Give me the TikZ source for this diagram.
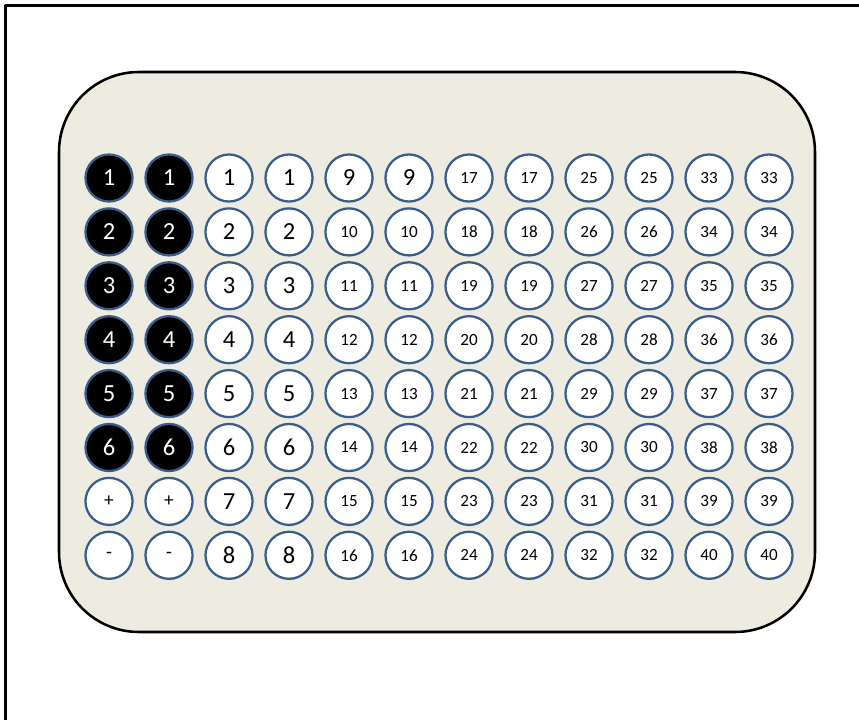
\documentclass[tikz,border=0pt]{standalone}
\usepackage{fontspec}
\setmainfont{Carlito}
\definecolor{plateink}{HTML}{000000}
\definecolor{platefill}{HTML}{EEECE1}
\definecolor{wellring}{HTML}{385D8A}

\begin{document}
\begin{tikzpicture}[x=0.75pt, y=-0.75pt, line cap=round, line join=round,
    well/.style={circle, draw=wellring, line width=1.7pt, minimum size=35.3pt, inner sep=0pt},
    whitewell/.style={well, fill=white, text=plateink},
    blackwell/.style={well, fill=black, text=white},
    bigtxt/.style={font=\fontsize{18.4}{18.4}\selectfont},
    smalltxt/.style={font=\fontsize{12.8}{12.8}\selectfont},
    signtxt/.style={font=\fontsize{14.5}{14.5}\selectfont}]
  \useasboundingbox (0,0) rectangle (859,720);
  \def\dx{60}
  \def\dy{53.9}

  % 外框：只有左边和上边
  \draw[plateink, line width=2.25pt, line cap=butt] (5.5,720) -- (5.5,5.5) -- (859,5.5);

  % 圆角底板
  \draw[plateink, fill=platefill, line width=1.9pt, rounded corners=60pt] (59,72) rectangle (815,632);

  % 左两列：黑色 1–6，下面是 + 和 -
  \foreach \c in {1,2}{
    \foreach \r in {1,...,6}
      \node[blackwell, bigtxt] (w\c-\r) at ({49+\dx*\c},{178+\dy*(\r-1)}) {\r};
    \node[whitewell, signtxt] (w\c-7) at ({49+\dx*\c},{178+\dy*6}) {+};
    \node[whitewell, signtxt] (w\c-8) at ({49+\dx*\c},{178+\dy*7}) {-};
  }

  % 其余十列：每两列同号，1–40
  \foreach \c in {3,...,12}{
    \foreach \r in {1,...,8}{
      \pgfmathtruncatemacro{\n}{8*floor((\c-3)/2)+\r}
      \ifnum\n<10
        \node[whitewell, bigtxt] (w\c-\r) at ({49+\dx*\c},{178+\dy*(\r-1)}) {\n};
      \else
        \node[whitewell, smalltxt] (w\c-\r) at ({49+\dx*\c},{178+\dy*(\r-1)}) {\n};
      \fi
    }
  }
\end{tikzpicture}
\end{document}
